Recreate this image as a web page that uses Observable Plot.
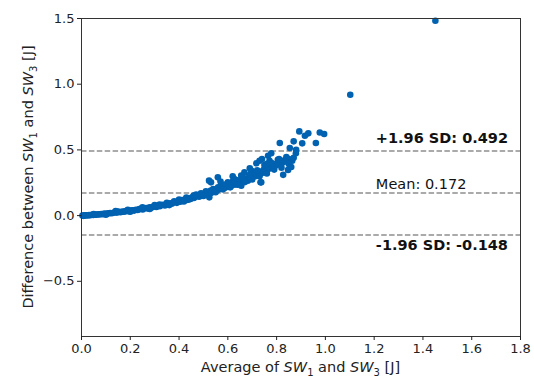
<!DOCTYPE html>
<html>
<head>
<meta charset="utf-8">
<script src="https://cdn.jsdelivr.net/npm/d3@7"></script>
<script src="https://cdn.jsdelivr.net/npm/@observablehq/plot@0.6"></script>
<style>
  html, body { margin: 0; padding: 0; background: #fff; }
  #chart { width: 534px; height: 380px; }
</style>
</head>
<body>
<div id="chart"></div>
<script>
// Average of SW1 and SW3 [J]
const avgX = [
  0.004,0.008,0.012,0.016,0.020,0.026,0.031,0.036,0.042,0.048,0.055,0.061,0.068,0.074,0.081,0.088,0.095,0.102,0.110,0.117,
  0.124,0.131,0.138,0.145,0.152,0.160,0.167,0.174,0.181,0.188,0.195,0.202,0.209,0.216,0.223,0.230,0.237,0.244,0.251,0.258,
  0.265,0.272,0.279,0.286,0.293,0.300,0.307,0.314,0.321,0.328,0.335,0.342,0.349,0.356,0.363,0.370,0.377,0.384,0.391,0.398,
  0.405,0.412,0.419,0.426,0.433,0.440,0.447,0.454,0.461,0.468,0.475,0.482,0.489,0.496,0.503,0.510,0.517,0.524,0.524,0.531,
  0.538,0.545,0.552,0.559,0.566,0.573,0.580,0.587,0.594,0.601,0.608,0.615,0.622,0.629,0.636,0.643,0.650,0.657,0.664,0.671,
  0.678,0.685,0.692,0.699,0.706,0.713,0.720,0.727,0.734,0.741,0.748,0.755,0.762,0.769,0.776,0.783,0.790,0.797,0.804,0.811,
  0.818,0.825,0.832,0.839,0.846,0.853,
  0.893,0.930,0.916,0.977,0.995,0.961,0.813,0.870,0.854,0.879,0.864,0.850,0.778,0.765,0.771,0.730,0.717,0.799,0.785,0.847,
  0.827,0.744,0.696,0.668,0.655,0.734,0.682,0.627,0.600,0.559,0.531,0.655,0.737,0.523,
  0.140,0.190,0.250,0.300,0.350,0.400,0.430,0.460,0.490,0.510,0.540,0.570,0.590,0.620,0.640,0.700,0.760,0.805,
  0.050,0.100,0.150,0.200,0.250,0.280,0.320,0.360,0.380,0.420,0.440,0.470,0.500,0.530,0.550,0.560,0.580,0.600,0.610,0.630,
  0.640,0.660,0.670,0.690,0.700,0.720,0.730,0.750,0.760,0.780,0.790,0.810,0.820,0.840,0.860,0.870,0.880,0.905,0.570,0.620,
  0.690,0.740,
  1.102,1.451
];
// Difference between SW1 and SW3 [J]
const diffY = [
  0.000,-0.002,0.002,0.001,0.003,0.002,0.004,0.003,0.006,0.005,0.008,0.007,0.010,0.009,0.012,0.011,0.015,0.013,0.017,0.019,
  0.018,0.022,0.025,0.023,0.028,0.026,0.031,0.029,0.034,0.036,0.033,0.039,0.041,0.038,0.045,0.043,0.049,0.052,0.047,0.056,
  0.058,0.054,0.063,0.060,0.067,0.071,0.065,0.075,0.072,0.080,0.083,0.077,0.088,0.085,0.094,0.090,0.099,0.103,0.097,0.110,
  0.106,0.118,0.113,0.124,0.120,0.131,0.127,0.139,0.134,0.146,0.152,0.143,0.160,0.155,0.168,0.162,0.176,0.139,0.181,0.172,
  0.190,0.186,0.199,0.194,0.207,0.202,0.215,0.210,0.224,0.219,0.233,0.228,0.241,0.236,0.251,0.245,0.262,0.256,0.272,0.266,
  0.284,0.277,0.296,0.289,0.308,0.300,0.322,0.312,0.335,0.327,0.350,0.341,0.362,0.356,0.378,0.370,0.388,0.381,0.400,0.392,
  0.410,0.404,0.421,0.413,0.433,0.428,
  0.641,0.626,0.608,0.633,0.621,0.553,0.553,0.565,0.515,0.474,0.418,0.393,0.474,0.456,0.418,0.418,0.398,0.393,0.367,0.348,
  0.310,0.329,0.342,0.329,0.304,0.253,0.266,0.279,0.253,0.291,0.253,0.228,0.253,0.266,
  0.035,0.044,0.063,0.080,0.097,0.122,0.138,0.152,0.170,0.185,0.203,0.222,0.236,0.260,0.268,0.320,0.395,0.425,
  0.012,0.006,0.031,0.030,0.055,0.050,0.085,0.080,0.108,0.108,0.122,0.160,0.150,0.190,0.178,0.215,0.200,0.245,0.215,0.265,
  0.235,0.290,0.255,0.310,0.275,0.345,0.300,0.385,0.320,0.400,0.350,0.430,0.365,0.445,0.370,0.440,0.500,0.550,0.260,0.300,
  0.360,0.430,
  0.920,1.483
];
// Limits of agreement
const lineValues = [0.492, 0.172, -0.148];
const lineLabels = ["+1.96 SD: 0.492", "Mean: 0.172", "-1.96 SD: -0.148"];
const lineBold = [true, false, true];
const xTicks = [0, 0.2, 0.4, 0.6, 0.8, 1.0, 1.2, 1.4, 1.6, 1.8];
const yTicks = [-0.5, 0, 0.5, 1.0, 1.5];

const points = avgX.map((x, i) => ({x, y: diffY[i]}));
const lines = lineValues.map((v, i) => ({v, label: lineLabels[i], bold: lineBold[i], dy: [-12.5, -9, 10][i]}));

const fmt = d3.format(".1f");
const plot = Plot.plot({
  width: 534,
  height: 380,
  marginLeft: 81,
  marginRight: 14,
  marginTop: 18,
  marginBottom: 44,
  style: {fontFamily: "DejaVu Sans", fontSize: "13px", color: "#222", background: "#fff"},
  x: {domain: [0, 1.8], label: null},
  y: {domain: [-0.92, 1.5], label: null},
  marks: [
    Plot.ruleY(lines, {y: "v", stroke: "#8f8f8f", strokeWidth: 1.5, strokeDasharray: "5.5,2.4"}),
    Plot.dot(points, {x: "x", y: "y", r: 3.3, fill: "#0062b0", stroke: null}),
    ...lines.map(l => Plot.text([l], {
      x: () => 1.207, y: "v", text: "label", dy: l.dy, textAnchor: "start",
      fontWeight: l.bold ? "bold" : "normal", fontSize: 14.5, fill: "#111"
    })),
    Plot.frame({stroke: "#333", strokeWidth: 1}),
    Plot.axisX({ticks: xTicks, tickFormat: fmt, tickSize: 4, tickPadding: 3, label: null, fontSize: 13}),
    Plot.axisY({ticks: yTicks, tickFormat: fmt, tickSize: 4, tickPadding: 3, label: null, fontSize: 13})
  ]
});

document.getElementById("chart").appendChild(plot);

const svg = d3.select(plot);
function richLabel(g, parts) {
  const t = g.append("text");
  let shift = 0;
  parts.forEach(p => {
    const s = t.append("tspan").text(p.text);
    if (p.type === "it") s.attr("font-style", "italic");
    if (p.type === "sub") { s.attr("font-size", "10px").attr("dy", 3.5); shift = 3.5; }
    else if (shift) { s.attr("dy", -shift); shift = 0; }
  });
  return t;
}
const labelParts = (first) => [
  {type: "txt", text: first},
  {type: "it", text: "SW"}, {type: "sub", text: "1"}, {type: "txt", text: " and "},
  {type: "it", text: "SW"}, {type: "sub", text: "3"}, {type: "txt", text: " [J]"}
];
const xl = svg.append("g")
  .attr("font-family", "DejaVu Sans").attr("font-size", "14.5px").attr("fill", "#222")
  .attr("text-anchor", "middle")
  .attr("transform", "translate(300.5,372)");
richLabel(xl, labelParts("Average of "));
const yl = svg.append("g")
  .attr("font-family", "DejaVu Sans").attr("font-size", "14.5px").attr("fill", "#222")
  .attr("text-anchor", "middle")
  .attr("transform", "translate(33,177) rotate(-90)");
richLabel(yl, labelParts("Difference between "));
</script>
</body>
</html>
